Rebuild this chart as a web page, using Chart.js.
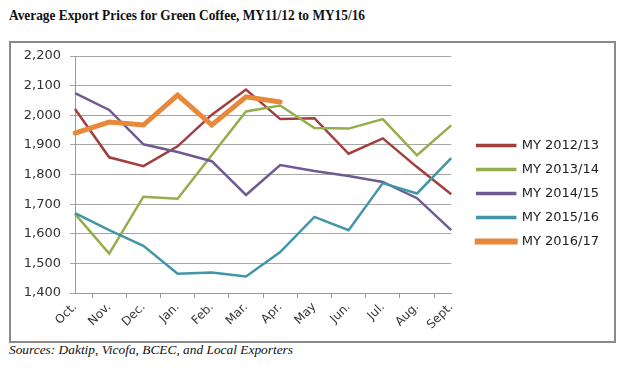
<!DOCTYPE html>
<html><head><meta charset="utf-8">
<script src="https://cdn.jsdelivr.net/npm/chart.js@4.4.0/dist/chart.umd.min.js"></script>
<style>
html,body{margin:0;padding:0;background:#fff;width:628px;height:372px;overflow:hidden;position:relative;}
#title{position:absolute;left:9px;top:7px;font:bold 15px "Liberation Serif",serif;color:#111;white-space:nowrap;transform-origin:0 0;}
#box{position:absolute;left:9px;top:41px;width:607px;height:302px;box-sizing:border-box;border:2px solid #8a8a8a;}
#wrap{position:absolute;left:0;top:0;width:603px;height:298px;}
#source{position:absolute;left:9px;top:343px;font:italic 12px "Liberation Serif",serif;color:#111;white-space:nowrap;transform-origin:0 0;}
</style></head><body>
<div id="title">Average Export Prices for Green Coffee, MY11/12 to MY15/16</div>
<div id="box"><div id="wrap"><canvas id="c"></canvas></div></div>
<div id="source">Sources: Daktip, Vicofa, BCEC, and Local Exporters</div>
<script>
const months = ['Oct.','Nov.','Dec.','Jan.','Feb.','Mar.','Apr.','May','Jun.','Jul.','Aug.','Sept.'];
const seriesNames = ['MY 2012/13','MY 2013/14','MY 2014/15','MY 2015/16','MY 2016/17'];
const my1213 = [2021, 1858, 1828, 1895, 2002, 2087, 1987, 1990, 1870, 1922, 1825, 1733];
const my1314 = [1667, 1533, 1725, 1718, 1866, 2013, 2033, 1957, 1955, 1987, 1865, 1966];
const my1415 = [2075, 2018, 1902, 1876, 1845, 1731, 1832, 1812, 1795, 1775, 1720, 1612];
const my1516 = [1670, 1612, 1559, 1465, 1469, 1456, 1538, 1657, 1612, 1771, 1736, 1855];
const my1617 = [1940, 1977, 1967, 2068, 1967, 2062, 2045];
const colors = ['#A23E3C','#93AE4A','#6F5A92','#4197A6','#E8883A'];

function fitText(id, target){
  const el = document.getElementById(id);
  const w = el.getBoundingClientRect().width;
  el.style.transform = 'scaleX(' + (target / w) + ')';
}
fitText('title', 356);
fitText('source', 284);

const allSeries = [my1213, my1314, my1415, my1516, my1617];
const datasets = allSeries.map((d, i) => ({
  label: seriesNames[i],
  data: d,
  borderColor: colors[i],
  backgroundColor: colors[i],
  borderWidth: i === 4 ? 5 : 2.5,
  borderCapStyle: i === 4 ? 'round' : 'butt',
  pointRadius: 0,
  tension: 0,
  fill: false,
  order: 5 - i
}));

// move the whole legend box a fixed gap right of the plot area, slightly raised
const legendGap = {
  id: 'legendGap',
  afterLayout(chart) {
    const lg = chart.legend;
    if (!lg) return;
    const dx = chart.chartArea.right + 15 - lg.left;
    lg.left += dx; lg.right += dx;
    lg.top -= 5; lg.bottom -= 5;
  }
};

new Chart(document.getElementById('c'), {
  type: 'line',
  data: { labels: months, datasets },
  plugins: [legendGap],
  options: {
    responsive: true, maintainAspectRatio: false, animation: false,
    layout: { padding: { top: 13, left: 0, right: 20, bottom: 0 } },
    plugins: {
      legend: {
        position: 'right', align: 'center',
        labels: {
          boxWidth: 38, boxHeight: 1, padding: 11, color: '#222',
          font: { family: 'DejaVu Sans', size: 13 },
          sort: (a, b) => a.datasetIndex - b.datasetIndex
        }
      },
      tooltip: { enabled: false }
    },
    scales: {
      x: {
        grid: { offset: true, drawOnChartArea: false, color: '#999', tickLength: 5 },
        border: { color: '#999', width: 1 },
        ticks: { minRotation: 45, maxRotation: 45, color: '#333', padding: 2,
                 font: { family: 'DejaVu Sans', size: 12 } },
        afterFit(s) { s.height = 48; }
      },
      y: {
        min: 1400, max: 2200,
        ticks: { stepSize: 100, color: '#333', padding: 9,
                 font: { family: 'DejaVu Sans', size: 13 } },
        grid: { color: '#a6a6a6', tickLength: 5 },
        border: { color: '#999', width: 1 },
        afterFit(s) { s.width = 64; s.paddingTop = 0; s.paddingBottom = 0; }
      }
    }
  }
});
</script>
</body></html>
